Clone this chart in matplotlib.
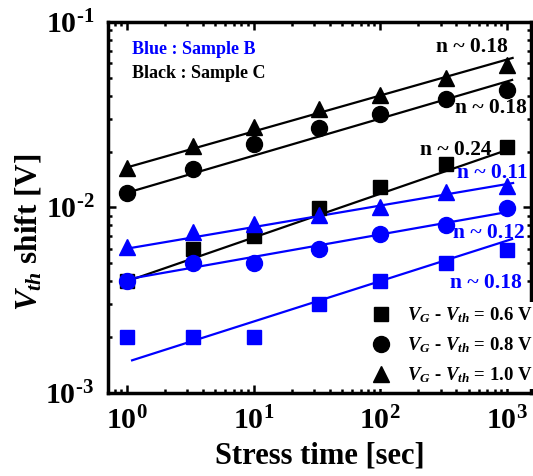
import matplotlib
matplotlib.use('Agg')
import matplotlib.pyplot as plt
from matplotlib.ticker import FuncFormatter
import numpy as np

plt.rcParams['font.family'] = ['Liberation Serif', 'DejaVu Serif']
plt.rcParams['font.weight'] = 'bold'
plt.rcParams['mathtext.fontset'] = 'custom'
plt.rcParams['mathtext.rm'] = 'Liberation Serif:bold'
plt.rcParams['mathtext.it'] = 'Liberation Serif:italic:bold'
plt.rcParams['mathtext.bf'] = 'Liberation Serif:bold'

# stress time [sec]
t = [1, 3.3, 10, 33, 100, 330, 1000]

# sample C (black)
c_sq = [0.0040, 0.0060, 0.0070, 0.0099, 0.0129, 0.0171, 0.0212]
c_ci = [0.0120, 0.0161, 0.0220, 0.0269, 0.0319, 0.0385, 0.0430]
c_tr = [0.0163, 0.0215, 0.0272, 0.0340, 0.0404, 0.0499, 0.0586]

# sample B (blue)
b_sq = [0.0020, 0.0020, 0.0020, 0.0030, 0.0040, 0.0050, 0.0059]
b_ci = [0.0040, 0.0050, 0.0050, 0.0060, 0.0072, 0.0080, 0.0099]
b_tr = [0.0061, 0.0074, 0.0081, 0.0091, 0.0101, 0.0121, 0.0131]

# fit lines (x start, x end, y start, y end)
fit_x = {'c_sq': (1.0, 1000), 'c_ci': (1.0, 1100), 'c_tr': (1.02, 1110),
         'b_sq': (1.1, 1100), 'b_ci': (1.0, 1050), 'b_tr': (1.0, 1120)}
fit_y = {'c_sq': (0.0040, 0.0204), 'c_ci': (0.0120, 0.0487), 'c_tr': (0.0165, 0.0640),
         'b_sq': (0.0015, 0.00676), 'b_ci': (0.0041, 0.0095), 'b_tr': (0.0060, 0.01355)}

n_labels = ['n ~ 0.18', 'n ~ 0.18', 'n ~ 0.24', 'n ~ 0.11', 'n ~ 0.12', 'n ~ 0.18']
n_colors = ['k', 'k', 'k', 'b', 'b', 'b']
n_pos = [(1016, 0.0733), (1436, 0.0343), (760, 0.0204), (1462, 0.01535), (1384, 0.0073), (1312, 0.00392)]

legend_labels = [r'$V_G$ - $V_{th}$ = 0.6 V', r'$V_G$ - $V_{th}$ = 0.8 V', r'$V_G$ - $V_{th}$ = 1.0 V']

fig = plt.figure(figsize=(5.33, 4.76), dpi=100)
ax = fig.add_axes([0.2026, 0.1744, 0.7936, 0.7794])

for key, color in [('c_sq', 'k'), ('c_ci', 'k'), ('c_tr', 'k'),
                   ('b_sq', 'b'), ('b_ci', 'b'), ('b_tr', 'b')]:
    ax.plot(fit_x[key], fit_y[key], color=color, lw=1.6, zorder=2)

ms = 10.5
ax.plot(t, c_sq, 's', color='k', ms=ms - 1, zorder=3)
ax.plot(t, c_ci, 'o', color='k', ms=ms + 1, zorder=3)
ax.plot(t, c_tr, '^', color='k', ms=ms + 1, zorder=3)
ax.plot(t, b_sq, 's', color='b', ms=ms - 1, zorder=3)
ax.plot(t, b_ci, 'o', color='b', ms=ms + 1, zorder=3)
ax.plot(t, b_tr, '^', color='b', ms=ms + 1, zorder=3)

for lab, col, (x, y) in zip(n_labels, n_colors, n_pos):
    ax.text(x, y, lab, color=col, fontsize=15.5, fontweight='bold', ha='right', va='center')

ax.text(0.057, 0.925, 'Blue : Sample B', color='b', fontsize=13, fontweight='bold', transform=ax.transAxes, va='center')
ax.text(0.057, 0.862, 'Black : Sample C', color='k', fontsize=13, fontweight='bold', transform=ax.transAxes, va='center')

# legend with black markers only
h1, = ax.plot([], [], 's', color='k', ms=ms - 1)
h2, = ax.plot([], [], 'o', color='k', ms=ms + 1)
h3, = ax.plot([], [], '^', color='k', ms=ms + 1)
leg = ax.legend([h1, h2, h3], legend_labels, loc='lower right', bbox_to_anchor=(1.035, -0.015),
                fontsize=13.5, frameon=True, framealpha=1, edgecolor='none',
                handletextpad=0.8, labelspacing=0.55, borderpad=0.2, handlelength=1.2)
leg.set_zorder(5)

ax.set_xscale('log')
ax.set_yscale('log')
ax.set_xlim(0.71, 1550)
ax.set_ylim(1e-3, 1e-1)


def pow10(v, pos):
    e = int(round(np.log10(v)))
    s = str(e) if e >= 0 else r'\text{-}' + str(-e)
    return r'$10^{' + s + '}$'


ax.xaxis.set_major_formatter(FuncFormatter(pow10))
ax.yaxis.set_major_formatter(FuncFormatter(pow10))

ax.set_xlabel('Stress time [sec]', fontsize=22, fontweight='bold')
ax.set_ylabel(r'$V_{th}$ shift [V]', fontsize=22.5, fontweight='bold')
ax.xaxis.set_label_coords(0.5, -0.13)
ax.yaxis.set_label_coords(-0.152, 0.434)

for s in ax.spines.values():
    s.set_linewidth(2.5)
ax.tick_params(which='both', direction='in', top=True, right=True, width=1.8)
ax.tick_params(which='major', length=6, labelsize=21.5, pad=10)
ax.tick_params(which='minor', length=3)

fig.savefig('out.png', dpi=100)
